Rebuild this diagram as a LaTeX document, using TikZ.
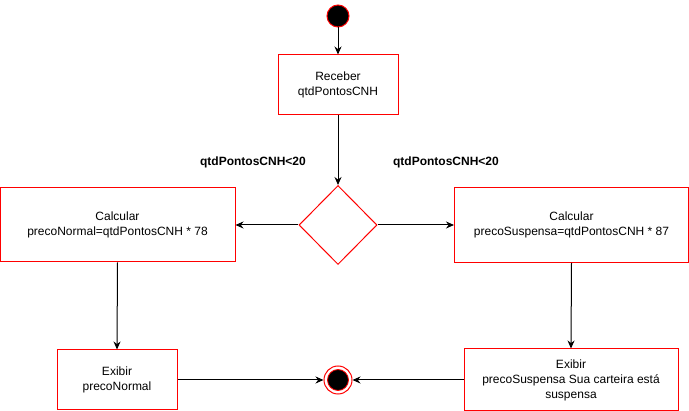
\documentclass[tikz,border=0pt]{standalone}
\usepackage{fontspec}
\setmainfont{Liberation Sans}
\usetikzlibrary{shapes.geometric,arrows.meta}

\begin{document}
\begin{tikzpicture}[x=1pt,y=-1pt,
    font=\fontsize{12}{15}\selectfont,
    acao/.style={draw=red,line width=1pt,align=center,inner sep=0pt},
    seta/.style={-{Stealth[length=8pt,width=7pt]},line width=1pt}]
        % Area do desenho
        \useasboundingbox (0,0) rectangle (689,411);

        % Inicio e fim
        \node[circle,fill=black,draw=red,line width=1pt,minimum size=22pt,inner sep=0pt] (inicio) at (338,16) {}; % Estado inicial
        \node[circle,draw=red,line width=1pt,minimum size=28pt,inner sep=0pt] (fim) at (338,380) {}; % Estado final
        \node[circle,fill=black,draw=red,line width=0.8pt,minimum size=21pt,inner sep=0pt] at (fim) {};

        % Acoes
        \node[acao,minimum width=120pt,minimum height=60pt] (receber) at (338,85) {Receber\\qtdPontosCNH};
        \node[diamond,draw=red,line width=1pt,minimum width=78pt,minimum height=79pt,inner sep=0pt] (decisao) at (338,225) {};
        \node[acao,minimum width=235pt,minimum height=74pt] (normal) at (117.5,225) {Calcular\\precoNormal=qtdPontosCNH * 78};
        \node[acao,minimum width=234pt,minimum height=75pt] (suspensa) at (571.5,225) {Calcular\\precoSuspensa=qtdPontosCNH * 87};
        \node[acao,minimum width=120pt,minimum height=60pt] (exnormal) at (117,380) {Exibir\\precoNormal};
        \node[acao,minimum width=214pt,minimum height=62pt] (exsuspensa) at (571,380) {Exibir\\precoSuspensa Sua carteira está\\suspensa};

        % Rotulos
        \node (rotesq) at (253,162) {\textbf{qtdPontosCNH<20}};
        \node (rotdir) at (446,162) {\textbf{qtdPontosCNH<20}};

        % Transicoes
        \draw[seta] (inicio) -- (receber);
        \draw[seta] (receber) -- (decisao);
        \draw[seta] (decisao) -- (normal);
        \draw[seta] (decisao) -- (suspensa);
        \draw[seta] (normal.south) -- (exnormal.north);
        \draw[seta] (suspensa.south) -- (exsuspensa.north);
        \draw[seta] (exnormal) -- (fim);
        \draw[seta] (exsuspensa) -- (fim);
    \end{tikzpicture}
\end{document}
